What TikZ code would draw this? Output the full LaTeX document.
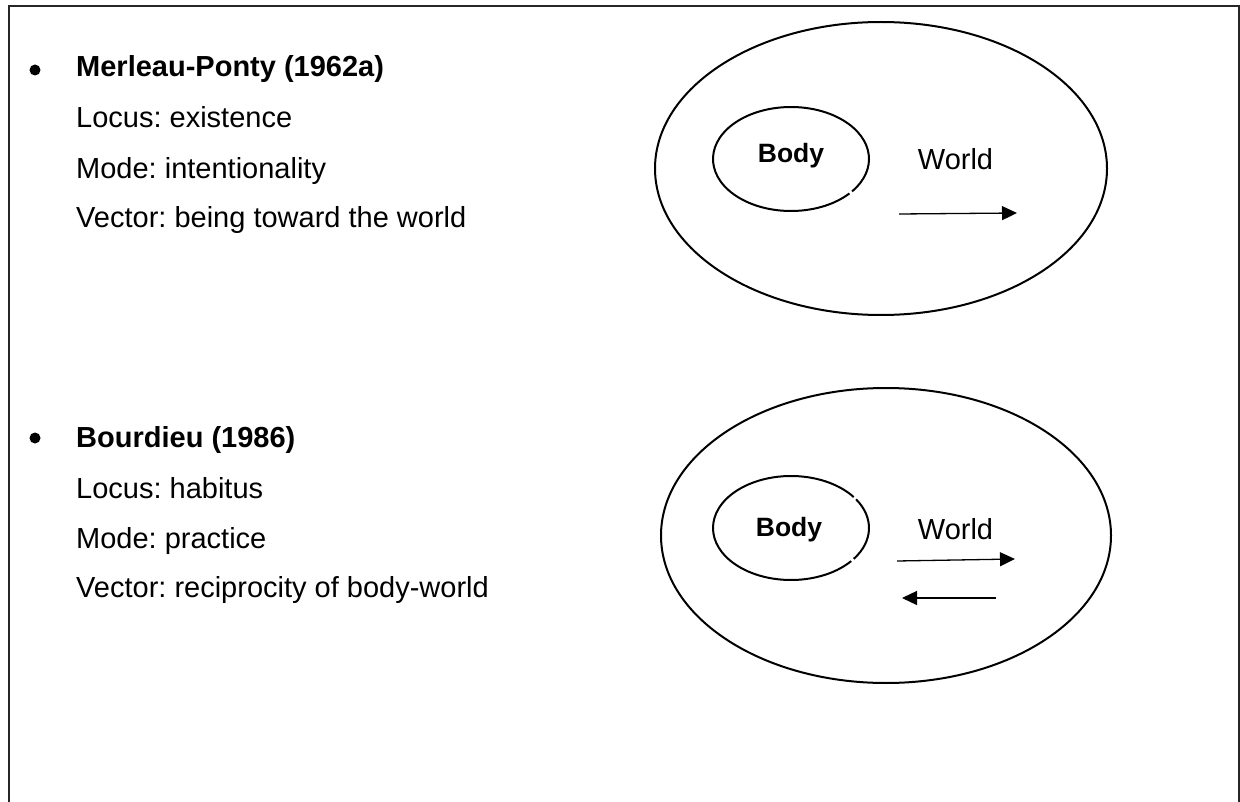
\documentclass[tikz,border=0pt]{standalone}
\usepackage{fontspec}
\setmainfont{Liberation Sans}
\usetikzlibrary{arrows.meta}
\frenchspacing

\tikzset{
  frame/.style={line width=2pt, draw=black!85},
  outline/.style={line width=2pt, draw=black},
  flow/.style={line width=1.3pt, -{Triangle[length=15pt,width=14pt]}},
  bodytext/.style={inner sep=0pt, anchor=base west, font=\fontsize{29}{35}\selectfont},
  headtext/.style={inner sep=0pt, anchor=base west, font=\fontsize{29}{35}\selectfont\bfseries},
  bodylabel/.style={inner sep=0pt, anchor=base, font=\fontsize{26.5}{32}\selectfont\bfseries},
  worldlabel/.style={inner sep=0pt, anchor=base, font=\fontsize{29}{35}\selectfont},
}

\begin{document}
\begin{tikzpicture}[x=1pt, y=-1pt]
  \useasboundingbox (0,0) rectangle (1240,802);
  \fill[white] (0,0) rectangle (1240,802);

  % open frame: left, top and right sides only
  \draw[frame] (9,802) -- (9,6.5) -- (1238.5,6.5) -- (1238.5,802);

  % ---------- first theory ----------
  \fill (35,70) circle[radius=5.5];
  \node[headtext] (mp)  at (76,77)  {Merleau-Ponty (1962a)};
  \node[bodytext] (mpl) at (76,128) {Locus: existence};
  \node[bodytext] (mpm) at (76,179) {Mode: intentionality};
  \node[bodytext] (mpv) at (76,228) {Vector: being toward the world};

  \coordinate (w1) at (881,168.5);
  \draw[outline] (w1) ellipse[x radius=226, y radius=146.5];
  \coordinate (b1) at (791,159);
  \draw[outline] (b1) ++(41.5:78 and 52) arc[start angle=41.5, end angle=398.5, x radius=78, y radius=52];
  \node[bodylabel]  (body1)  at (791,163) {Body};
  \node[worldlabel] (world1) at (955.5,170) {World};
  \coordinate (a1s) at (899,214);
  \coordinate (a1e) at (1017,213);
  \draw[flow] (a1s) -- (a1e);

  % ---------- second theory ----------
  \fill (35,438) circle[radius=5.5];
  \node[headtext] (bd)  at (76,447) {Bourdieu (1986)};
  \node[bodytext] (bdl) at (76,498) {Locus: habitus};
  \node[bodytext] (bdm) at (76,548) {Mode: practice};
  \node[bodytext] (bdv) at (76,597) {Vector: reciprocity of body-world};

  \coordinate (w2) at (886,535.5);
  \draw[outline] (w2) ellipse[x radius=225, y radius=147.5];
  \coordinate (b2) at (791,528);
  \draw[outline] (b2) ++(-33.5:78 and 52) arc[start angle=-33.5, end angle=36.5, x radius=78, y radius=52];
  \draw[outline] (b2) ++(39.5:78 and 52) arc[start angle=39.5, end angle=323.5, x radius=78, y radius=52];
  \node[bodylabel]  (body2)  at (789,536) {Body};
  \node[worldlabel] (world2) at (955.5,539) {World};
  \coordinate (a2s) at (897,561);
  \coordinate (a2e) at (1015,559);
  \draw[flow] (a2s) -- (a2e);
  \coordinate (a3s) at (996,598);
  \coordinate (a3e) at (902,598);
  \draw[flow] (a3s) -- (a3e);
\end{tikzpicture}
\end{document}
